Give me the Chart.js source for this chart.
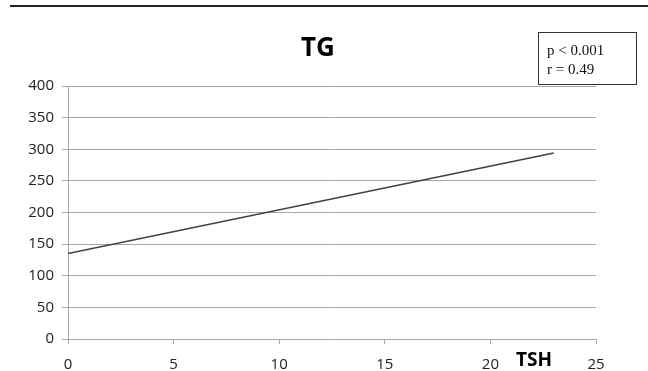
<!DOCTYPE html>
<html>
<head>
<meta charset="utf-8">
<script src="https://cdn.jsdelivr.net/npm/chart.js@4"></script>
<style>
  html, body { margin: 0; padding: 0; background: #fff; }
  #wrap { position: relative; width: 648px; height: 371px; overflow: hidden; }
  #topbar { position: absolute; left: 10px; top: 5px; width: 638px; height: 2px; background: #222; }
  #title { position: absolute; left: 268px; top: 28px; width: 100px; text-align: center;
           font: bold 26px "Open Sans", sans-serif; color: #000; line-height: 36px; }
  #xtitle { position: absolute; left: 504px; top: 346px; width: 60px; text-align: center;
            font: bold 19px "Open Sans", sans-serif; color: #000; line-height: 26px; }
  #stats { position: absolute; left: 538px; top: 32px; width: 97px; height: 51px;
           border: 1px solid #333; font: 15px "Liberation Serif", serif; color: #111;
           box-sizing: content-box; }
  #stats div { position: absolute; left: 8px; line-height: 18px; white-space: nowrap; }
</style>
</head>
<body>
<div id="wrap">
  <canvas id="chart"></canvas>
  <div id="topbar"></div>
  <div id="title">TG</div>
  <div id="xtitle">TSH</div>
  <div id="stats">
    <div style="top:8px">p &lt; 0.001</div>
    <div style="top:27px">r = 0.49</div>
  </div>
</div>
<script>
// regression line end points (TSH -> TG)
const tshValues = [0, 23];
const tgValues  = [135, 294];
const xTicks    = [0, 5, 10, 15, 20, 25];
const yTicks    = [0, 50, 100, 150, 200, 250, 300, 350, 400];

const GRID = "#a8a8a8";
const TICK_FONT = { family: "Open Sans", size: 15 };

new Chart(document.getElementById("chart").getContext("2d"), {
  type: "scatter",
  data: {
    datasets: [{
      data: tshValues.map((x, i) => ({ x, y: tgValues[i] })),
      showLine: true,
      borderColor: "#404040",
      borderWidth: 1.5,
      pointRadius: 0,
      fill: false,
    }],
  },
  options: {
    responsive: true, maintainAspectRatio: false, animation: false,
    layout: { padding: { top: 86, right: 52, bottom: 0, left: 0 } },
    plugins: { legend: { display: false }, tooltip: { enabled: false }, title: { display: false } },
    scales: {
      x: {
        type: "linear", min: xTicks[0], max: xTicks[xTicks.length - 1],
        afterBuildTicks: s => { s.ticks = xTicks.map(v => ({ value: v })); },
        afterFit: s => { s.height = 32; },
        ticks: { color: "#222", font: TICK_FONT, padding: 12 },
        grid: { drawOnChartArea: false, drawTicks: true, tickLength: 5, color: GRID },
        border: { color: GRID },
      },
      y: {
        type: "linear", min: yTicks[0], max: yTicks[yTicks.length - 1],
        afterBuildTicks: s => { s.ticks = yTicks.map(v => ({ value: v })); },
        afterFit: s => { s.width = 68; },
        ticks: { color: "#222", font: TICK_FONT, padding: 8 },
        grid: { color: GRID, tickLength: 6 },
        border: { color: GRID },
      },
    },
  },
});
</script>
</body>
</html>
